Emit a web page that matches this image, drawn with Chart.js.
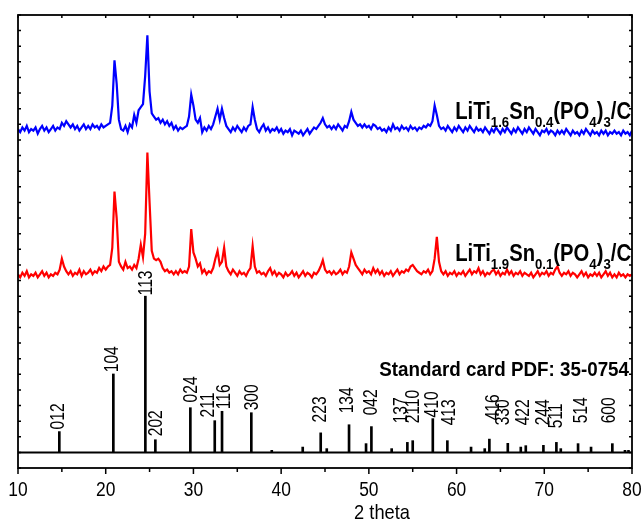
<!DOCTYPE html>
<html lang="en">
<head>
  <meta charset="UTF-8">
  <title>XRD LiTi2-xSnx(PO4)3/C</title>
  <script src="https://cdn.jsdelivr.net/npm/chart.js"></script>
  <style>
    body { margin: 0; background: #fff; }
  </style>
</head>
<body>
  <canvas id="xrdChart" width="644" height="523"></canvas>

  <script>
    // 2 theta grid of the two measured patterns
    const thetaStart = 10;
    const thetaStep = 0.25;

    // LiTi1.6Sn0.4(PO4)3/C, intensity (offset units)
    const blueY = [
      207,205,208,206,209,205,207,206,   // 10
      208,204,207,209,206,208,205,207,   // 12
      209,206,208,207,211,209,212,210,   // 14
      208,210,207,209,206,208,210,207,   // 16
      209,207,210,208,209,207,210,208,   // 18
      209,210,211,222,251,236,213,207,   // 20
      206,209,205,210,208,216,211,219,   // 22
      221,223,241,267,231,217,215,213,   // 24
      214,211,213,210,212,209,211,207,   // 26
      209,206,208,207,208,209,215,229,   // 28
      222,213,211,214,205,208,206,209,   // 30
      207,210,215,220,213,220,214,209,   // 32
      207,205,208,206,209,207,205,208,   // 34
      206,209,210,221,213,207,205,208,   // 36
      210,206,208,205,207,206,208,205,   // 38
      207,204,206,205,207,203,206,205,   // 40
      204,206,203,205,207,204,206,208,   // 42
      207,209,211,214,210,208,209,207,   // 44
      209,207,210,208,206,209,208,212,   // 46
      218,213,211,209,210,208,210,208,   // 48
      209,207,210,209,207,208,206,207,   // 50
      205,208,206,210,207,208,206,209,   // 52
      207,208,206,209,207,208,206,208,   // 54
      207,209,208,210,209,212,222,216,   // 56
      209,207,208,206,209,207,205,208,   // 58
      206,209,207,205,208,206,209,207,   // 60
      205,208,206,207,205,208,206,204,   // 62
      207,205,208,206,204,207,205,208,   // 64
      206,204,207,205,208,206,204,207,   // 66
      205,208,206,204,207,205,203,206,   // 68
      205,207,204,206,205,203,206,204,   // 70
      206,204,207,205,203,206,204,205,   // 72
      203,206,204,207,205,203,206,204,   // 74
      205,203,206,204,206,203,205,204,   // 76
      206,204,205,203,206,204,205,203,   // 78
      206                                // 80
    ];

    // LiTi1.9Sn0.1(PO4)3/C
    const redY = [
      114,112,115,113,116,112,114,113,   // 10
      115,112,114,116,113,115,112,114,   // 12
      113,115,114,117,124,119,116,114,   // 14
      116,113,115,114,117,113,116,114,   // 16
      115,117,114,116,115,118,116,119,   // 18
      117,119,120,131,167,150,122,119,   // 20
      117,122,118,119,117,120,118,124,   // 22
      133,125,140,192,160,129,124,123,   // 24
      124,122,118,116,117,115,116,114,   // 26
      116,114,117,115,116,115,119,143,   // 28
      128,124,119,121,115,117,114,116,   // 30
      115,118,124,129,120,122,131,119,   // 32
      116,114,117,115,113,116,114,115,   // 34
      113,116,118,132,119,115,116,114,   // 36
      115,113,116,118,114,116,113,115,   // 38
      114,112,115,113,114,116,113,115,   // 40
      112,114,116,113,115,114,112,115,   // 42
      114,116,119,123,117,115,116,114,   // 44
      116,114,115,117,114,116,115,119,   // 46
      128,124,120,118,116,114,117,115,   // 48
      116,114,118,115,117,114,116,113,   // 50
      115,114,116,113,115,117,114,116,   // 52
      115,117,116,119,120,118,116,115,   // 54
      114,116,115,117,114,116,124,138,   // 56
      122,116,114,116,113,115,114,116,   // 58
      113,115,114,116,113,115,117,114,   // 60
      116,115,118,114,116,113,115,114,   // 62
      116,117,114,116,113,115,114,117,   // 64
      114,116,113,115,114,116,113,115,   // 66
      114,113,115,112,114,116,113,115,   // 68
      114,116,113,115,114,117,119,115,   // 70
      113,115,114,116,113,115,114,112,   // 72
      114,116,113,115,112,114,113,115,   // 74
      113,115,112,114,116,113,115,112,   // 76
      114,112,115,113,114,112,114,113,   // 78
      114                                // 80
    ];

    // Standard card PDF 35-0754
    const stickTheta = [14.71,20.87,24.52,25.66,29.65,32.43,33.26,36.6,38.93,42.46,44.51,45.2,
                        47.74,49.68,50.29,52.6,54.39,55.0,57.29,58.95,61.65,63.21,63.74,65.84,
                        67.32,67.89,69.9,71.38,71.88,73.85,75.33,77.76,79.2,79.6];
    const stickI = [13.3,50.2,100,8.1,28.6,20.3,26.3,25.4,1.3,3.4,12.5,2.4,
                    17.7,5.6,16.5,2.4,6.4,7.5,21.6,7.5,3.4,2.4,8.5,5.8,
                    3.4,4.3,4.5,6.4,2.4,5.6,3.4,5.6,1.3,1.3];
    const stickHkl = ['012','104','113','202','024','211','116','300','','','223','',
                      '134','','042','','137','2110','410','413','','','416','330',
                      '','422','244','511','','514','','600','',''];

    const xTicks = [10, 20, 30, 40, 50, 60, 70, 80];
    const xTitle = '2 theta';
    const blueName = [['LiTi',0],['1.6',1],['Sn',0],['0.4',1],['(PO',0],['4',1],[')',0],['3',1],['/C',0]];
    const redName  = [['LiTi',0],['1.9',1],['Sn',0],['0.1',1],['(PO',0],['4',1],[')',0],['3',1],['/C',0]];
    const cardName = 'Standard card PDF: 35-0754';

    // hkl label placement: [pixel nudge in x, label foot in y units]
    const labelPlace = {
      '012': [-2, 14.7], '104': [-2, 51.3], '113': [0, 100.5], '202': [0, 10.3],
      '024': [0, 32],    '211': [-7, 22.4], '116': [1, 27.6],  '300': [0, 26.9],
      '223': [-1, 19.2], '134': [-3, 25],   '042': [-1, 23.7], '137': [-7, 18.6],
      '2110': [0, 18.6], '410': [-1, 22.4], '413': [1, 17.3],  '416': [3, 20.5],
      '330': [-5, 17.3], '422': [-3, 17.3], '244': [-1, 17.3], '511': [-1, 15.4],
      '514': [2, 18.6],  '600': [-4, 18.6]
    };

    const toPoints = arr => arr.map((v, i) => ({ x: thetaStart + i * thetaStep, y: v }));

    function narrowText(ctx, text, x, y, font, sx, align) {
      ctx.save();
      ctx.font = font;
      ctx.translate(x, y);
      ctx.scale(sx, 1);
      ctx.textAlign = align;
      ctx.textBaseline = 'alphabetic';
      ctx.fillText(text, 0, 0);
      ctx.restore();
    }

    // formula with subscripts, right aligned at xr
    function drawFormula(ctx, parts, xr, y) {
      const big = 'bold 23px "Liberation Sans", Arial, sans-serif';
      const small = 'bold 15px "Liberation Sans", Arial, sans-serif';
      const sx = 0.88;
      let total = 0;
      parts.forEach(p => { ctx.font = p[1] ? small : big; total += ctx.measureText(p[0]).width; });
      ctx.save();
      ctx.translate(xr - total * sx, y);
      ctx.scale(sx, 1);
      ctx.textAlign = 'left';
      let cx = 0;
      parts.forEach(p => {
        ctx.font = p[1] ? small : big;
        ctx.fillText(p[0], cx, p[1] ? 8 : 0);
        cx += ctx.measureText(p[0]).width;
      });
      ctx.restore();
    }

    const framePlugin = {
      id: 'frame',
      afterDraw(chart) {
        const { ctx, chartArea: a, scales: { x, y } } = chart;
        ctx.save();
        ctx.strokeStyle = '#000';
        ctx.fillStyle = '#000';
        ctx.lineWidth = 1.8;
        ctx.strokeRect(a.left, a.top, a.right - a.left, a.bottom - a.top);

        ctx.lineWidth = 1.5;
        ctx.beginPath();
        for (let v = 10; v <= 80; v += 5) {
          const px = x.getPixelForValue(v);
          ctx.moveTo(px, a.bottom);
          ctx.lineTo(px, a.bottom + (v % 10 === 0 ? 6 : 4));
          ctx.moveTo(px, a.top);
          ctx.lineTo(px, a.top + 3);
        }
        for (let v = -10; v <= 280; v += 10) {
          const py = y.getPixelForValue(v);
          ctx.moveTo(a.left, py);
          ctx.lineTo(a.left + 3, py);
          ctx.moveTo(a.right, py);
          ctx.lineTo(a.right - 3, py);
        }
        ctx.stroke();

        const tickFont = '20px "Liberation Sans", Arial, sans-serif';
        xTicks.forEach(v => narrowText(ctx, String(v), x.getPixelForValue(v), a.bottom + 28, tickFont, 0.87, 'center'));
        narrowText(ctx, xTitle, x.getPixelForValue(51.5), a.bottom + 51, '21px "Liberation Sans", Arial, sans-serif', 0.87, 'center');

        // hkl labels
        ctx.font = '20px "Liberation Sans", Arial, sans-serif';
        stickHkl.forEach((t, i) => {
          if (!t) return;
          const p = labelPlace[t];
          ctx.save();
          ctx.translate(x.getPixelForValue(stickTheta[i]) + p[0], y.getPixelForValue(p[1]));
          ctx.rotate(-Math.PI / 2);
          ctx.scale(0.78, 1);
          ctx.textAlign = 'left';
          ctx.textBaseline = 'middle';
          ctx.fillText(t, 0, 1);
          ctx.restore();
        });

        drawFormula(ctx, blueName, a.right - 1, 119);
        drawFormula(ctx, redName, a.right - 1, 261);
        narrowText(ctx, cardName, a.right - 3, 376, 'bold 20px "Liberation Sans", Arial, sans-serif', 0.94, 'right');
        ctx.restore();
      }
    };

    const ctx = document.getElementById('xrdChart').getContext('2d');
    new Chart(ctx, {
      type: 'line',
      data: {
        datasets: [
          {
            label: 'LiTi1.6Sn0.4(PO4)3/C',
            data: toPoints(blueY),
            borderColor: '#0000ff',
            borderWidth: 2.2,
            pointRadius: 0,
            tension: 0
          },
          {
            label: 'LiTi1.9Sn0.1(PO4)3/C',
            data: toPoints(redY),
            borderColor: '#ff0000',
            borderWidth: 2.2,
            pointRadius: 0,
            tension: 0
          },
          {
            label: 'baseline',
            data: [{ x: 10, y: 0 }, { x: 80, y: 0 }],
            borderColor: '#000',
            borderWidth: 2,
            pointRadius: 0
          },
          {
            type: 'bar',
            label: 'PDF 35-0754',
            data: stickTheta.map((t, i) => ({ x: t, y: stickI[i] })),
            backgroundColor: '#000',
            barThickness: 2
          }
        ]
      },
      options: {
        responsive: false,
        devicePixelRatio: 1,
        animation: false,
        layout: { padding: { left: 18, right: 12, top: 15, bottom: 55 } },
        plugins: { legend: { display: false }, tooltip: { enabled: false } },
        scales: {
          x: { type: 'linear', min: 10, max: 80, offset: false, display: false },
          y: { min: -10, max: 280, display: false }
        }
      },
      plugins: [framePlugin]
    });
  </script>
</body>
</html>
